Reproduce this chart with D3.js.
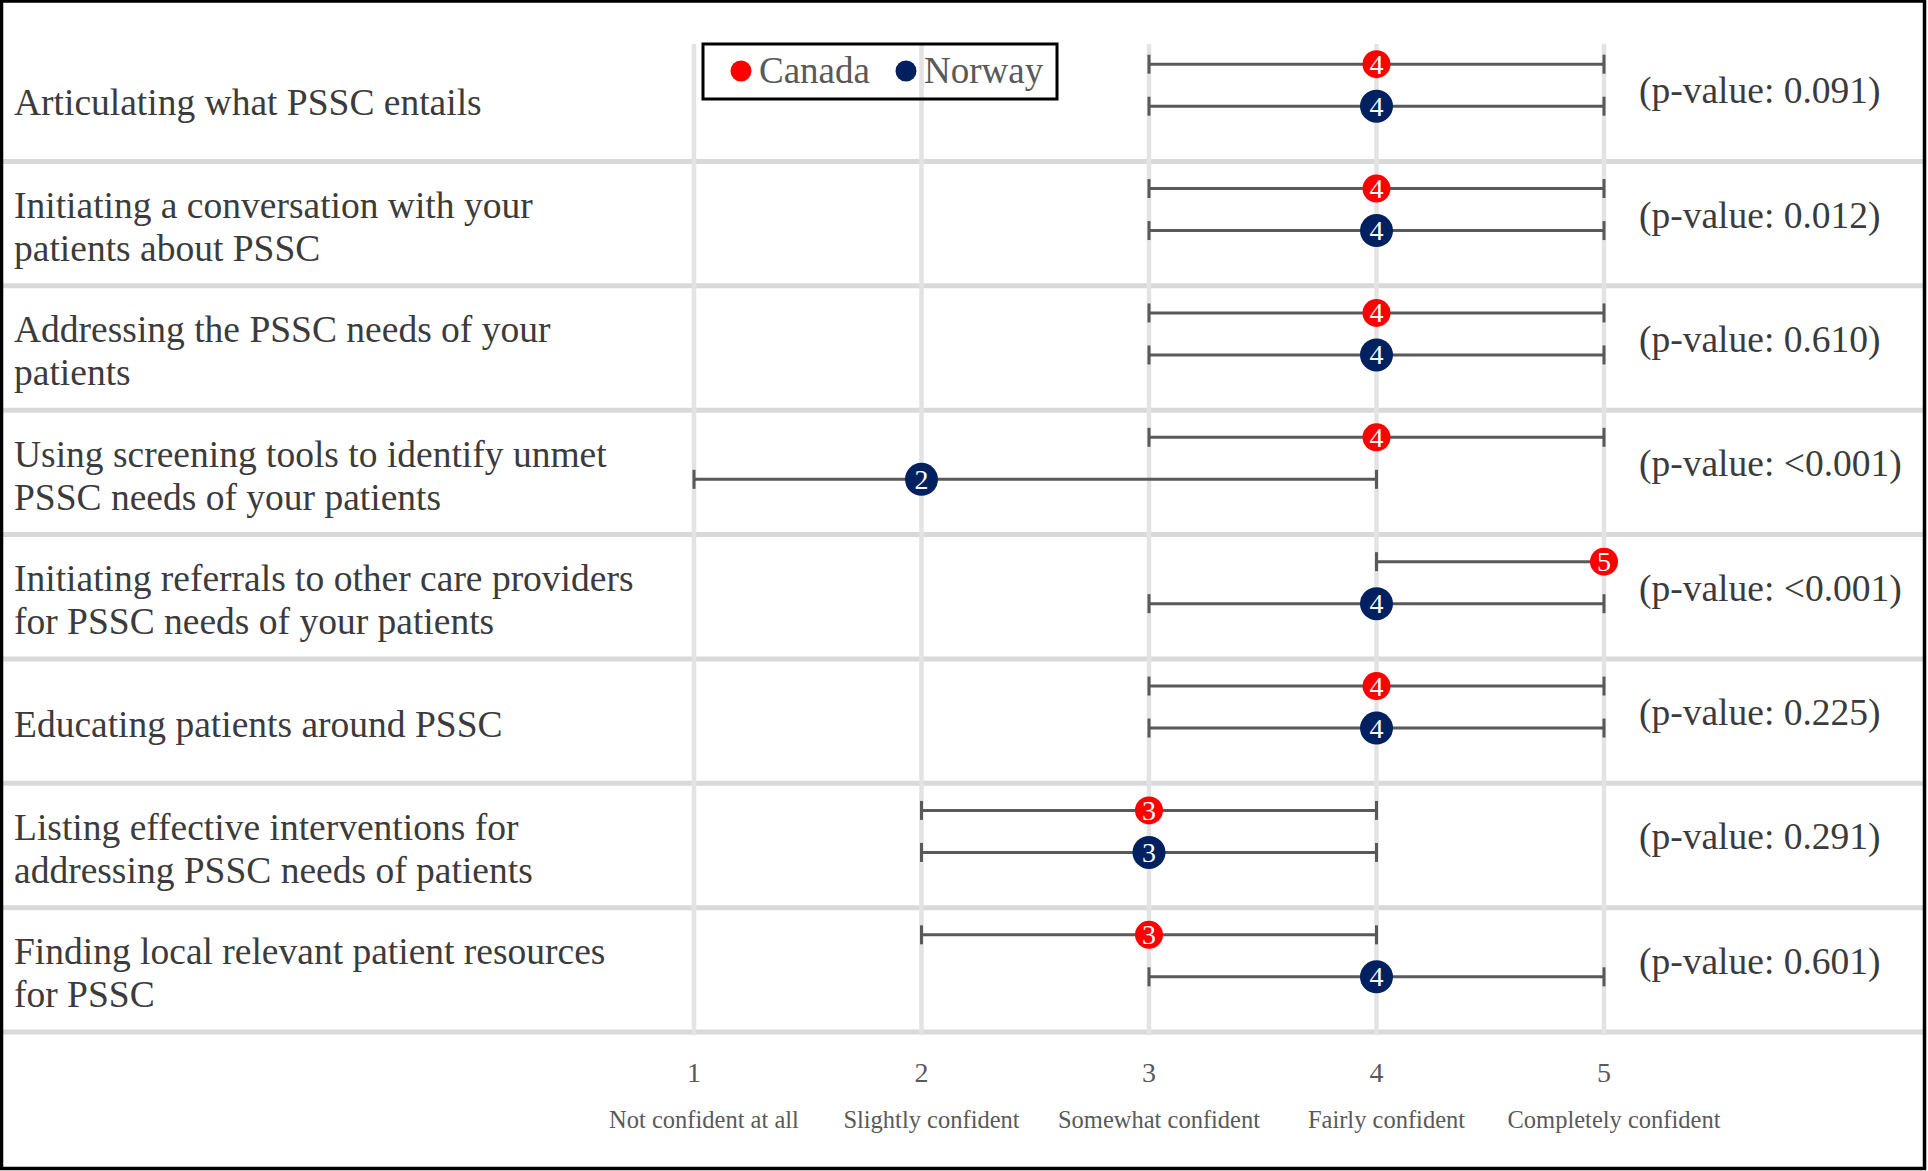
<!DOCTYPE html>
<html>
<head>
<meta charset="utf-8">
<script src="https://cdn.jsdelivr.net/npm/d3@7"></script>
<style>
  body { margin: 0; background: #fff; }
  svg { display: block; }
</style>
</head>
<body>
<svg id="chart" width="1928" height="1171"></svg>
<script>
// Survey items (row labels, already wrapped as in the original table)
var itemLines = [
  ["Articulating what PSSC entails"],
  ["Initiating a conversation with your", "patients about PSSC"],
  ["Addressing the PSSC needs of your", "patients"],
  ["Using screening tools to identify unmet", "PSSC needs of your patients"],
  ["Initiating referrals to other care providers", "for PSSC needs of your patients"],
  ["Educating patients around PSSC"],
  ["Listing effective interventions for", "addressing PSSC needs of patients"],
  ["Finding local relevant patient resources", "for PSSC"]
];

// medians and ranges per country
var canadaMedian = [4, 4, 4, 4, 5, 4, 3, 3];
var canadaLow    = [3, 3, 3, 3, 4, 3, 2, 2];
var canadaHigh   = [5, 5, 5, 5, 5, 5, 4, 4];
var norwayMedian = [4, 4, 4, 2, 4, 4, 3, 4];
var norwayLow    = [3, 3, 3, 1, 3, 3, 2, 3];
var norwayHigh   = [5, 5, 5, 4, 5, 5, 4, 5];

var pValues = ["0.091", "0.012", "0.610", "<0.001", "<0.001", "0.225", "0.291", "0.601"];

var scaleTicks = [1, 2, 3, 4, 5];
var scaleLabels = ["Not confident at all", "Slightly confident", "Somewhat confident",
                   "Fairly confident", "Completely confident"];

var countries = ["Canada", "Norway"];
var countryColors = ["#ff0000", "#002060"];

var svg = d3.select("#chart"),
  width = +svg.attr("width"),
  height = +svg.attr("height");

var serif = "'Liberation Serif', 'Times New Roman', serif";

// scales
var x = d3.scaleLinear().domain([1, 5]).range([694, 1604]);
var y = d3.scaleBand().domain(d3.range(itemLines.length)).range([23, 1018]);
var sub = d3.scalePoint().domain(countries).range([-21, 21]);
var radius = { Canada: 14, Norway: 16.5 };

// build rows for each country
var series = [];
itemLines.forEach(function (lines, i) {
  series.push({ row: i, country: "Canada", med: canadaMedian[i], lo: canadaLow[i], hi: canadaHigh[i] });
  series.push({ row: i, country: "Norway", med: norwayMedian[i], lo: norwayLow[i], hi: norwayHigh[i] });
});

function rowCenter(i) { return y(i) + y.bandwidth() / 2; }
function barY(d) { return rowCenter(d.row) + sub(d.country); }

// table row separators
var sepOffset = 14;
var seps = d3.range(1, itemLines.length + 1).map(function (i) {
  return y.range()[0] + i * y.step() + sepOffset;
});
svg.append("g")
  .selectAll("line")
  .data(seps)
  .enter()
  .append("line")
  .attr("x1", 3)
  .attr("x2", width - 3)
  .attr("y1", function (d) { return d; })
  .attr("y2", function (d) { return d; })
  .attr("stroke", "#d9d9d9")
  .attr("stroke-width", 5);

// vertical grid lines
svg.append("g")
  .selectAll("line")
  .data(scaleTicks)
  .enter()
  .append("line")
  .attr("x1", function (d) { return x(d); })
  .attr("x2", function (d) { return x(d); })
  .attr("y1", 44)
  .attr("y2", seps[seps.length - 1] + 3)
  .attr("stroke", "#e3e3e3")
  .attr("stroke-width", 4.5);

// row labels
var labels = svg.append("g")
  .attr("font-family", serif)
  .attr("font-size", 37.5)
  .attr("fill", "#3b3b3b");

labels.selectAll("text")
  .data(itemLines)
  .enter()
  .append("text")
  .attr("y", function (d, i) {
    return rowCenter(i) + 18 + 12 - (d.length - 1) * 21.5;
  })
  .each(function (d) {
    d3.select(this)
      .selectAll("tspan")
      .data(d)
      .enter()
      .append("tspan")
      .attr("x", 14)
      .attr("dy", function (t, k) { return k === 0 ? 0 : 43; })
      .text(function (t) { return t; });
  });

// p-values
svg.append("g")
  .selectAll("text")
  .data(pValues)
  .enter()
  .append("text")
  .attr("x", 1639)
  .attr("y", function (d, i) { return rowCenter(i) + 18; })
  .attr("font-family", serif)
  .attr("font-size", 37.5)
  .attr("fill", "#3b3b3b")
  .text(function (d) { return "(p-value: " + d + ")"; });

// error bars
var bars = svg.append("g")
  .attr("stroke", "#595959")
  .attr("stroke-width", 3);

bars.selectAll(".range")
  .data(series)
  .enter()
  .append("line")
  .attr("class", "range")
  .attr("x1", function (d) { return x(d.lo); })
  .attr("x2", function (d) { return x(d.hi); })
  .attr("y1", barY)
  .attr("y2", barY);

var caps = [];
series.forEach(function (d) {
  caps.push({ d: d, v: d.lo });
  caps.push({ d: d, v: d.hi });
});
bars.selectAll(".cap")
  .data(caps)
  .enter()
  .append("line")
  .attr("class", "cap")
  .attr("x1", function (c) { return x(c.v); })
  .attr("x2", function (c) { return x(c.v); })
  .attr("y1", function (c) { return barY(c.d) - 9.5; })
  .attr("y2", function (c) { return barY(c.d) + 9.5; });

// median markers
var marks = svg.append("g")
  .selectAll("g")
  .data(series)
  .enter()
  .append("g")
  .attr("transform", function (d) {
    return "translate(" + x(d.med) + "," + barY(d) + ")";
  });

marks.append("circle")
  .attr("r", function (d) { return radius[d.country]; })
  .attr("fill", function (d) { return countryColors[countries.indexOf(d.country)]; });

marks.append("text")
  .attr("text-anchor", "middle")
  .attr("y", 9.5)
  .attr("font-family", serif)
  .attr("font-size", 28)
  .attr("fill", "#ffffff")
  .text(function (d) { return d.med; });

// axis numbers and scale labels
var axis = svg.append("g")
  .attr("font-family", serif)
  .attr("fill", "#595959");

axis.selectAll(".tick-num")
  .data(scaleTicks)
  .enter()
  .append("text")
  .attr("class", "tick-num")
  .attr("x", function (d) { return x(d); })
  .attr("y", 1082)
  .attr("text-anchor", "middle")
  .attr("font-size", 28)
  .text(function (d) { return d; });

axis.selectAll(".tick-label")
  .data(scaleLabels)
  .enter()
  .append("text")
  .attr("class", "tick-label")
  .attr("x", function (d, i) { return x(scaleTicks[i]) + 10; })
  .attr("y", 1128)
  .attr("text-anchor", "middle")
  .attr("font-size", 24.5)
  .text(function (d) { return d; });

// legend
var legend = svg.append("g").attr("class", "legend");
legend.append("rect")
  .attr("x", 703)
  .attr("y", 44)
  .attr("width", 354)
  .attr("height", 55)
  .attr("fill", "none")
  .attr("stroke", "#000")
  .attr("stroke-width", 3);

var legendItems = legend.selectAll(".legend-item")
  .data(countries)
  .enter()
  .append("g")
  .attr("class", "legend-item")
  .attr("transform", function (d, i) {
    return "translate(" + (741 + i * 165) + ",71)";
  });

legendItems.append("circle")
  .attr("r", 10.5)
  .attr("fill", function (d, i) { return countryColors[i]; });

legendItems.append("text")
  .attr("x", 18)
  .attr("y", 12)
  .attr("font-family", serif)
  .attr("font-size", 37)
  .attr("fill", "#595959")
  .text(function (d) { return d; });

// outer frame
svg.append("rect")
  .attr("x", 1.5)
  .attr("y", 1)
  .attr("width", width - 5)
  .attr("height", height - 3.5)
  .attr("fill", "none")
  .attr("stroke", "#000")
  .attr("stroke-width", 3.5);
</script>
</body>
</html>
